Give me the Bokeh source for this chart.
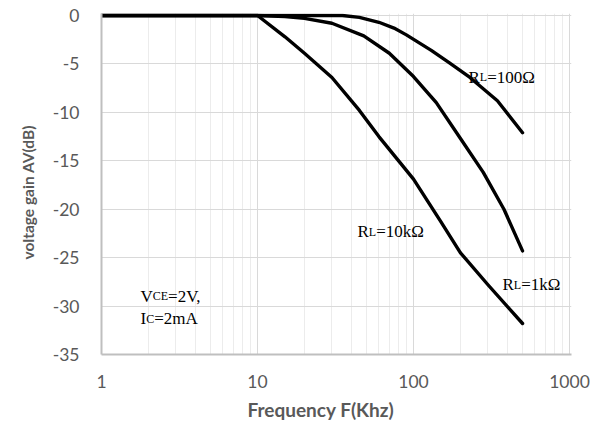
import math
from bokeh.plotting import figure
from bokeh.models import Range1d, FixedTicker, Label, Title
from bokeh.embed import file_html
from bokeh.resources import INLINE

# ---- data ----
f_10k = [1, 10, 15, 20, 30, 45, 60, 100, 150, 200, 300, 500]
g_10k = [0, 0, -2.2, -3.9, -6.4, -9.8, -12.5, -16.9, -21.3, -24.5, -27.8, -31.8]

f_1k = [1, 10, 15, 20, 30, 48, 70, 100, 140, 200, 280, 380, 500]
g_1k = [0, 0, -0.1, -0.3, -0.8, -2.1, -3.9, -6.3, -9.0, -12.7, -16.2, -20.0, -24.3]

f_100 = [1, 10, 35, 45, 60, 75, 90, 130, 170, 230, 345, 500]
g_100 = [0, 0, 0, -0.2, -0.7, -1.3, -2.0, -3.6, -4.9, -6.4, -8.8, -12.1]

x_ticks = [1, 10, 100, 1000]
x_tick_labels = ["1", "10", "100", "1000"]
y_ticks = [-35, -30, -25, -20, -15, -10, -5, 0]
y_tick_labels = ["-35", "-30", "-25", "-20", "-15", "-10", "-5", "0"]

W, H = 608, 425
FL, FB = 101, 354  # frame left / bottom on the page (for screen-unit labels)
p = figure(width=W, height=H, x_axis_type="log", output_backend="svg",
           toolbar_location=None,
           x_range=Range1d(1, 1030), y_range=Range1d(-35, 0.206),
           min_border_left=FL, min_border_right=37,
           min_border_top=13, min_border_bottom=H - FB)
p.outline_line_color = None
p.background_fill_color = "white"
p.border_fill_color = "white"

minor = [m * d for d in (1, 10, 100) for m in range(2, 10)]
p.xaxis.ticker = FixedTicker(ticks=x_ticks, minor_ticks=minor)
p.xaxis.major_label_overrides = {t: l for t, l in zip(x_ticks, x_tick_labels)}
p.yaxis.ticker = FixedTicker(ticks=y_ticks)
p.yaxis.major_label_overrides = {t: l for t, l in zip(y_ticks, y_tick_labels)}

for ax in (p.xaxis[0], p.yaxis[0]):
    ax.axis_line_color = "#bfbfbf"
    ax.axis_line_width = 2
    ax.major_tick_line_color = None
    ax.minor_tick_line_color = None
    ax.major_tick_out = 0
    ax.major_tick_in = 0
    ax.minor_tick_out = 0
    ax.major_label_text_font = "Lato"
    ax.major_label_text_font_size = "17.5px"
    ax.major_label_text_color = "#595959"
p.yaxis.major_label_standoff = 22
p.xaxis.major_label_standoff = 20

p.xgrid.grid_line_color = "#d9d9d9"
p.xgrid.minor_grid_line_color = "#ececec"
p.ygrid.grid_line_color = "#d9d9d9"

for fx, gy in ((f_10k, g_10k), (f_1k, g_1k), (f_100, g_100)):
    p.line(fx, gy, line_color="black", line_width=3.4, line_join="round",
           line_cap="round")

# axis titles
p.add_layout(Title(text="Frequency F(Khz)", text_font="Lato", text_font_style="bold",
                   text_font_size="19px", text_color="#595959",
                   align="left", offset=146, standoff=10), "below")
p.add_layout(Title(text="voltage  gain AV(dB)", text_font="Lato", text_font_style="bold",
                   text_font_size="15.5px", text_color="#595959",
                   align="left", offset=95, standoff=26), "left")


def page_label(x, y, **kw):
    p.add_layout(Label(x=x - FL, y=FB - y, x_units="screen", y_units="screen", **kw))


BIG, SMALL = 17, 12
serif = "Liberation Serif"


def piece(x, base, txt, size):
    page_label(x, base, text=txt, text_font=serif, text_font_size=f"{size}px",
               text_color="black", text_align="left", text_baseline="alphabetic")


def rl_label(x0, base, rest):
    piece(x0, base, "R", BIG)
    piece(x0 + 0.667 * BIG, base, "L", SMALL)
    piece(x0 + 0.667 * BIG + 0.611 * SMALL, base, rest, BIG)


rl_label(468, 76.7, "=100Ω")
rl_label(357, 231, "=10kΩ")
rl_label(502, 284.3, "=1kΩ")

piece(140, 295.7, "V", BIG)
piece(140 + 0.722 * BIG, 295.7, "CE", SMALL)
piece(140 + 0.722 * BIG + 1.278 * SMALL, 295.7, "=2V,", BIG)
piece(140, 318.3, "I", BIG)
piece(140 + 0.333 * BIG, 318.3, "C", SMALL)
piece(140 + 0.333 * BIG + 0.667 * SMALL, 318.3, "=2mA", BIG)

open("out.html", "w").write(file_html(p, INLINE))
